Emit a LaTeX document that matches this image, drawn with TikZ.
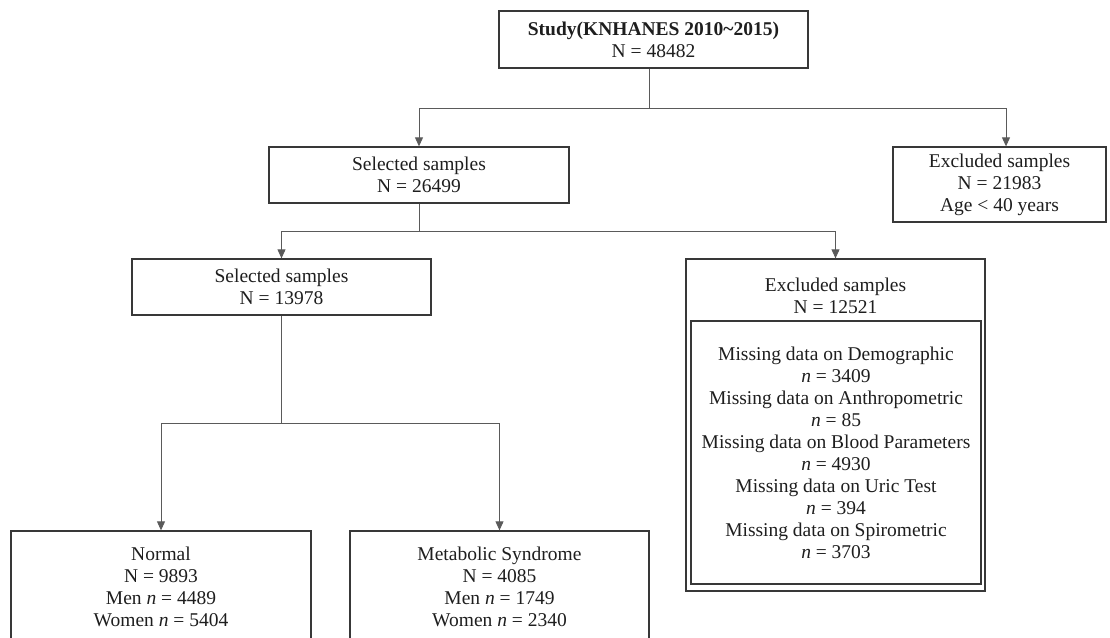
\documentclass[tikz,border=0pt]{standalone}
\usepackage{fontspec}
\setmainfont{Liberation Serif}
\usetikzlibrary{arrows.meta,calc}
\definecolor{boxc}{HTML}{383838}
\definecolor{linec}{HTML}{5A5A5A}
\definecolor{txtc}{HTML}{1E1E1E}
\begin{document}
\begin{tikzpicture}[x=1pt,y=-1pt,
  box/.style={draw=boxc, line width=1.3pt, fill=white, align=center, inner sep=0pt,
    font=\fontsize{19.5}{22}\selectfont, text=txtc},
  txt/.style={align=center, inner sep=0pt, font=\fontsize{19.5}{22}\selectfont, text=txtc},
  conn/.style={draw=linec, line width=0.9pt},
  arr/.style={conn, -{Triangle[length=9pt,width=8pt]}}]
\useasboundingbox (0,0) rectangle (1110,637);
\clip (0,0) rectangle (1110,637);

% boxes
\node[box, minimum width=309pt, minimum height=57pt] (top) at (653.5,39.5)
  {\textbf{Study(KNHANES 2010\textasciitilde2015)}\\N = 48482};
\node[box, minimum width=300pt, minimum height=56pt] (sel1) at (419,175)
  {Selected samples\\N = 26499};
\node[box, minimum width=213pt, minimum height=75pt] (exc1) at (999.5,184.5)
  {Excluded samples\\N = 21983\\Age < 40 years};
\node[box, minimum width=299pt, minimum height=56pt] (sel2) at (281.5,287)
  {Selected samples\\N = 13978};
\node[box, minimum width=299pt, minimum height=332pt] (exc2) at (835.5,425) {};
\node[txt] (exc2head) at (835.5,296) {Excluded samples\\N = 12521};
\node[box, minimum width=290pt, minimum height=263pt] (exc2in) at (836,452.5)
  {Missing data on Demographic\\\textit{n} = 3409\\
   Missing data on Anthropometric\\\textit{n} = 85\\
   Missing data on Blood Parameters\\\textit{n} = 4930\\
   Missing data on Uric Test\\\textit{n} = 394\\
   Missing data on Spirometric\\\textit{n} = 3703};
\node[box, minimum width=300pt, minimum height=111pt] (norm) at (161,586.5)
  {Normal\\N = 9893\\Men \textit{n} = 4489\\Women \textit{n} = 5404};
\node[box, minimum width=299pt, minimum height=111pt] (mets) at (499.5,586.5)
  {Metabolic Syndrome\\N = 4085\\Men \textit{n} = 1749\\Women \textit{n} = 2340};

% connectors
\draw[conn] ([xshift=-4.5pt]top.south) -- ++(0,40) coordinate (j1);
\draw[arr] (j1) -| (sel1.north);
\draw[arr] (j1) -| ([xshift=6.5pt]exc1.north);
\draw[conn] (sel1.south) -- ++(0,28) coordinate (j2);
\draw[arr] (j2) -| (sel2.north);
\draw[arr] (j2) -| (exc2.north);
\draw[conn] (sel2.south) -- ++(0,108) coordinate (j3);
\draw[arr] (j3) -| (norm.north);
\draw[arr] (j3) -| (mets.north);
\end{tikzpicture}
\end{document}
